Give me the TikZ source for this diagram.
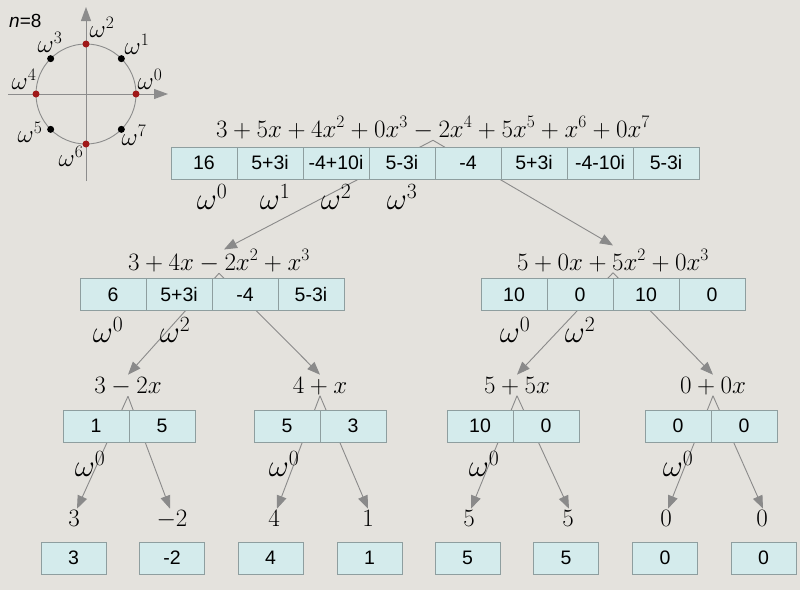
\RequirePackage{fix-cm}
\documentclass[tikz,border=0pt]{standalone}
\usepackage{fontspec}
\newfontfamily\boxfont{Liberation Sans}
\usetikzlibrary{arrows.meta,calc}
\definecolor{bg}{HTML}{E4E2DD}
\definecolor{cellfill}{HTML}{D4EBEC}
\definecolor{celldraw}{HTML}{8E9E9F}
\definecolor{arrgray}{HTML}{8A8A8A}
\definecolor{axisgray}{HTML}{8C8C8C}
\definecolor{dotred}{HTML}{A01818}
\begin{document}
\begin{tikzpicture}[x=1pt,y=-1pt,
  cell/.style={draw=celldraw, fill=cellfill, line width=1, minimum width=66, minimum height=32, inner sep=0, font=\boxfont\fontsize{19.5}{22}\selectfont},
  formula/.style={inner sep=0, anchor=base, font=\fontsize{25}{29}\selectfont},
  wlab/.style={inner sep=0, font=\fontsize{25}{28}\selectfont},
  tlab/.style={inner sep=0, font=\fontsize{31}{34}\selectfont},
  arr/.style={draw=arrgray, line width=0.9, -{Triangle[length=13pt,width=10pt]}},
  axis/.style={draw=axisgray, line width=0.9, -{Triangle[length=14pt,width=10pt]}},
  dot/.style={circle, inner sep=0, minimum size=7}
]
\fill[bg] (0,0) rectangle (800,590);
\useasboundingbox (0,0) rectangle (800,590);

% ---- unit circle ----
\coordinate (O) at (86,94);
\coordinate (xl) at (8,94);
\coordinate (xr) at (168,94);
\coordinate (yb) at (86,181);
\coordinate (yt) at (86,7);
\draw[axis] (xl) -- (xr);
\draw[axis] (yb) -- (yt);
\draw[axisgray, line width=0.9] (O) circle[radius=50];
\foreach \k in {0,...,7}{
  \pgfmathtruncatemacro{\ev}{mod(\k,2)}
  \ifnum\ev=0
    \node[dot, fill=dotred] (d\k) at ($(O)+({50*cos(\k*45)},{-50*sin(\k*45)})$) {};
  \else
    \node[dot, fill=black] (d\k) at ($(O)+({50*cos(\k*45)},{-50*sin(\k*45)})$) {};
  \fi
}
\node[wlab] (c0) at (150,79) {$\omega^0$};
\node[wlab] (c1) at (137,44) {$\omega^1$};
\node[wlab] (c2) at (102,27) {$\omega^2$};
\node[wlab] (c3) at (50,42) {$\omega^3$};
\node[wlab] (c4) at (24,79) {$\omega^4$};
\node[wlab] (c5) at (30,132) {$\omega^5$};
\node[wlab] (c6) at (71,156) {$\omega^6$};
\node[wlab] (c7) at (134,135) {$\omega^7$};
\node[inner sep=0, anchor=west, font=\boxfont\fontsize{19}{21}\selectfont] (nlab) at (9,21) {\textit{n}=8};

% ---- formulas ----
\node[formula] (f0) at (433,137) {$3+5x+4x^2+0x^3-2x^4+5x^5+x^6+0x^7$};
\node[formula] (f1) at (219,270) {$3+4x-2x^2+x^3$};
\node[formula] (f2) at (613,270) {$5+0x+5x^2+0x^3$};
\node[formula] (f3) at (128,393) {$3-2x$};
\node[formula] (f4) at (320,393) {$4+x$};
\node[formula] (f5) at (517,393) {$5+5x$};
\node[formula] (f6) at (713,393) {$0+0x$};
\node[formula] (l1) at (74,526) {$3$};
\node[formula] (l2) at (172,526) {$-2$};
\node[formula] (l3) at (274,526) {$4$};
\node[formula] (l4) at (368,526) {$1$};
\node[formula] (l5) at (469,526) {$5$};
\node[formula] (l6) at (568,526) {$5$};
\node[formula] (l7) at (666,526) {$0$};
\node[formula] (l8) at (762,526) {$0$};

% ---- arrows (drawn under the boxes) ----
\draw[arr] ([yshift=-1pt]f0.south) -- ([xshift=5pt]f1.north);
\draw[arr] ([yshift=-1pt]f0.south) -- ([yshift=4pt]f2.north);
\draw[arr] ([yshift=-1pt]f1.south) -- ([yshift=2pt]f3.north);
\draw[arr] ([yshift=-1pt]f1.south) -- ([yshift=2pt]f4.north);
\draw[arr] ([yshift=-1pt]f2.south) -- ([yshift=2pt]f5.north);
\draw[arr] ([yshift=-1pt]f2.south) -- ([yshift=2pt]f6.north);
\draw[arr] ([yshift=-1pt]f3.south) -- ([xshift=3pt,yshift=1pt]l1.north);
\draw[arr] ([yshift=-1pt]f3.south) -- ([xshift=-2pt,yshift=1pt]l2.north);
\draw[arr] ([yshift=-1pt]f4.south) -- ([xshift=3pt,yshift=1pt]l3.north);
\draw[arr] ([yshift=-1pt]f4.south) -- ([yshift=1pt]l4.north);
\draw[arr] ([yshift=-1pt]f5.south) -- ([xshift=2pt,yshift=1pt]l5.north);
\draw[arr] ([yshift=-1pt]f5.south) -- ([xshift=1pt,yshift=1pt]l6.north);
\draw[arr] ([yshift=-1pt]f6.south) -- ([xshift=2pt,yshift=1pt]l7.north);
\draw[arr] ([yshift=-1pt]f6.south) -- ([xshift=1pt,yshift=1pt]l8.north);

% ---- top row ----
\node[cell] (a1) at (204,163) {16};
\node[cell] (a2) at (270,163) {5+3i};
\node[cell] (a3) at (336,163) {-4+10i};
\node[cell] (a4) at (402,163) {5-3i};
\node[cell] (a5) at (468,163) {-4};
\node[cell] (a6) at (534,163) {5+3i};
\node[cell] (a7) at (600,163) {-4-10i};
\node[cell] (a8) at (666,163) {5-3i};

% ---- second row ----
\node[cell] (b1) at (113,294.5) {6};
\node[cell] (b2) at (179,294.5) {5+3i};
\node[cell] (b3) at (245,294.5) {-4};
\node[cell] (b4) at (311,294.5) {5-3i};
\node[cell] (b5) at (514,294.5) {10};
\node[cell] (b6) at (580,294.5) {0};
\node[cell] (b7) at (646,294.5) {10};
\node[cell] (b8) at (712,294.5) {0};

% ---- third row ----
\node[cell] (e1) at (96,426) {1};
\node[cell] (e2) at (162,426) {5};
\node[cell] (e3) at (287,426) {5};
\node[cell] (e4) at (353,426) {3};
\node[cell] (e5) at (480,426) {10};
\node[cell] (e6) at (546,426) {0};
\node[cell] (e7) at (678,426) {0};
\node[cell] (e8) at (744,426) {0};

% ---- leaves ----
\node[cell, minimum width=65] (g1) at (73.5,558) {3};
\node[cell, minimum width=65] (g2) at (172,558) {-2};
\node[cell, minimum width=65] (g3) at (270.5,558) {4};
\node[cell, minimum width=65] (g4) at (369.5,558) {1};
\node[cell, minimum width=65] (g5) at (467.5,558) {5};
\node[cell, minimum width=65] (g6) at (566,558) {5};
\node[cell, minimum width=65] (g7) at (665,558) {0};
\node[cell, minimum width=65] (g8) at (763.5,558) {0};

% ---- omega labels ----
\node[tlab] (t0) at (212,197) {$\omega^0$};
\node[tlab] (t1) at (275,197) {$\omega^1$};
\node[tlab] (t2) at (336,197) {$\omega^2$};
\node[tlab] (t3) at (402,197) {$\omega^3$};
\node[tlab] (m0) at (108,330) {$\omega^0$};
\node[tlab] (m2) at (175,330) {$\omega^2$};
\node[tlab] (m4) at (515,330) {$\omega^0$};
\node[tlab] (m6) at (580,330) {$\omega^2$};
\node[tlab] (s1) at (90,464) {$\omega^0$};
\node[tlab] (s2) at (284,464) {$\omega^0$};
\node[tlab] (s3) at (484,464) {$\omega^0$};
\node[tlab] (s4) at (678,464) {$\omega^0$};
\end{tikzpicture}
\end{document}
